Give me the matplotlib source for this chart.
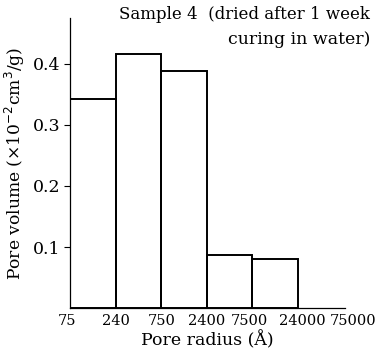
import matplotlib.pyplot as plt
import matplotlib.transforms as mtransforms

plt.rcParams['font.family'] = ['DejaVu Serif']

edges = ["75", "240", "750", "2400", "7500", "24000", "75000"]
volumes = [0.343, 0.416, 0.389, 0.087, 0.080]
yticks = [0.1, 0.2, 0.3, 0.4]

fig = plt.figure(figsize=(3.81, 3.53), dpi=100)
ax = fig.add_axes([0.184, 0.127, 0.722, 0.822])

ax.bar(range(len(volumes)), volumes, width=1, align='edge', fill=False,
       edgecolor='black', linewidth=1.4)

ax.set_xlim(0, 6.04)
ax.set_ylim(0, 0.475)
ax.set_xticks(range(len(edges)))
ax.set_xticklabels(edges, fontsize=10.5)
ax.tick_params(axis='x', length=0, pad=4)
ax.set_xticks([6], minor=True)
ax.tick_params(axis='x', which='minor', direction='in', length=5, width=0.8)


def nudge(lbl, dx):
    lbl.set_transform(lbl.get_transform() +
                      mtransforms.ScaledTranslation(dx / 100, 0, fig.dpi_scale_trans))


labels = ax.get_xticklabels()
nudge(labels[0], -3)
nudge(labels[4], -3)
nudge(labels[5], 4)
nudge(labels[6], 10)

ax.set_yticks(yticks)
ax.set_yticklabels([f"{v:.1f}" for v in yticks], fontsize=12.5)
ax.tick_params(axis='y', direction='out', length=4, width=0.8, pad=3)

for s in ['top', 'right']:
    ax.spines[s].set_visible(False)
for s in ['left', 'bottom']:
    ax.spines[s].set_linewidth(0.9)

ax.set_xlabel("Pore radius (Å)", fontsize=12.5, labelpad=2)
ax.set_ylabel("Pore volume (×10$^{-2}$cm$^3$/g)", fontsize=12.3, labelpad=4)

fig.text(0.972, 0.96, "Sample 4  (dried after 1 week", ha='right', va='center', fontsize=12)
fig.text(0.972, 0.887, "curing in water)", ha='right', va='center', fontsize=12.5)

fig.savefig("out.png", dpi=100)
